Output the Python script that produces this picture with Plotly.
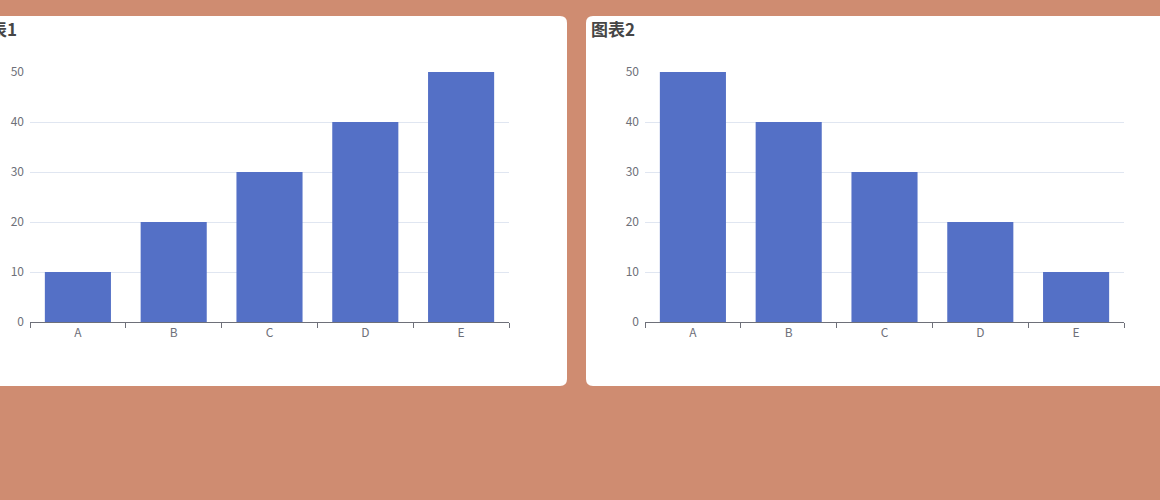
import plotly.graph_objects as go
from plotly.subplots import make_subplots

# data
categories = ['A', 'B', 'C', 'D', 'E']
values_chart1 = [10, 20, 30, 40, 50]
values_chart2 = [50, 40, 30, 20, 10]
titles = ['图表1', '图表2']

W, H = 1160, 500
bar_color = '#5470C6'
axis_color = '#6E7079'
grid_color = '#E0E6F1'
page_bg = '#CF8C71'


def px_x(v):
    return v / W


def px_y(v):
    return 1 - v / H


def rounded_rect(x0, y0, x1, y1, r):
    # path in paper coords built from pixel values
    pts = [
        f"M {px_x(x0 + r)} {px_y(y0)}",
        f"L {px_x(x1 - r)} {px_y(y0)}",
        f"Q {px_x(x1)} {px_y(y0)} {px_x(x1)} {px_y(y0 + r)}",
        f"L {px_x(x1)} {px_y(y1 - r)}",
        f"Q {px_x(x1)} {px_y(y1)} {px_x(x1 - r)} {px_y(y1)}",
        f"L {px_x(x0 + r)} {px_y(y1)}",
        f"Q {px_x(x0)} {px_y(y1)} {px_x(x0)} {px_y(y1 - r)}",
        f"L {px_x(x0)} {px_y(y0 + r)}",
        f"Q {px_x(x0)} {px_y(y0)} {px_x(x0 + r)} {px_y(y0)}",
        "Z",
    ]
    return " ".join(pts)


fig = make_subplots(rows=1, cols=2)

fig.add_trace(go.Bar(x=categories, y=values_chart1, marker_color=bar_color,
                     marker_line_width=0, showlegend=False), row=1, col=1)
fig.add_trace(go.Bar(x=categories, y=values_chart2, marker_color=bar_color,
                     marker_line_width=0, showlegend=False), row=1, col=2)

# plot areas (pixel positions)
fig.update_layout(
    xaxis=dict(domain=[px_x(30), px_x(509)]),
    xaxis2=dict(domain=[px_x(645), px_x(1124)]),
    yaxis=dict(domain=[px_y(322), px_y(72)]),
    yaxis2=dict(domain=[px_y(322), px_y(72)]),
)

fig.update_xaxes(
    type='category',
    range=[-0.5, 4.5],
    showline=True, linecolor=axis_color, linewidth=1,
    ticks='outside', tickson='boundaries', ticklen=5, tickcolor=axis_color,
    showgrid=False, zeroline=False, automargin=False,
    tickfont=dict(color=axis_color, size=12, family='Noto Sans CJK SC, sans-serif'),
)
fig.update_yaxes(
    range=[0, 50], dtick=10,
    showline=False, zeroline=False, automargin=False,
    showgrid=True, gridcolor=grid_color, gridwidth=1,
    ticks='', ticklabelstandoff=5,
    tickfont=dict(color=axis_color, size=12, family='Noto Sans CJK SC, sans-serif'),
)

shapes = [
    dict(type='path', xref='paper', yref='paper', layer='below',
         path=rounded_rect(-20, 16, 567, 386, 7),
         fillcolor='white', line=dict(width=0)),
    dict(type='path', xref='paper', yref='paper', layer='below',
         path=rounded_rect(586, 16, 1180, 386, 7),
         fillcolor='white', line=dict(width=0)),
]

annotations = [
    dict(text='<b>' + titles[0] + '</b>', xref='paper', yref='paper',
         x=px_x(-29), y=px_y(28), xanchor='left', yanchor='middle', showarrow=False,
         font=dict(size=17, color='#464646', family='Noto Sans CJK SC, sans-serif')),
    dict(text='<b>' + titles[1] + '</b>', xref='paper', yref='paper',
         x=px_x(589), y=px_y(28), xanchor='left', yanchor='middle', showarrow=False,
         font=dict(size=17, color='#464646', family='Noto Sans CJK SC, sans-serif')),
]

fig.update_layout(
    width=W, height=H,
    margin=dict(l=0, r=0, t=0, b=0, pad=0, autoexpand=False),
    paper_bgcolor=page_bg,
    plot_bgcolor='rgba(0,0,0,0)',
    bargap=0.31,
    shapes=shapes,
    annotations=annotations,
    font=dict(family='Noto Sans CJK SC, sans-serif'),
)

# drop the page's default body margin so the figure sits at the window's corner
fig.write_html(
    "out.html",
    config={'displayModeBar': False},
    post_script="document.body.style.margin='0';"
                "document.body.style.background='" + page_bg + "';",
)
